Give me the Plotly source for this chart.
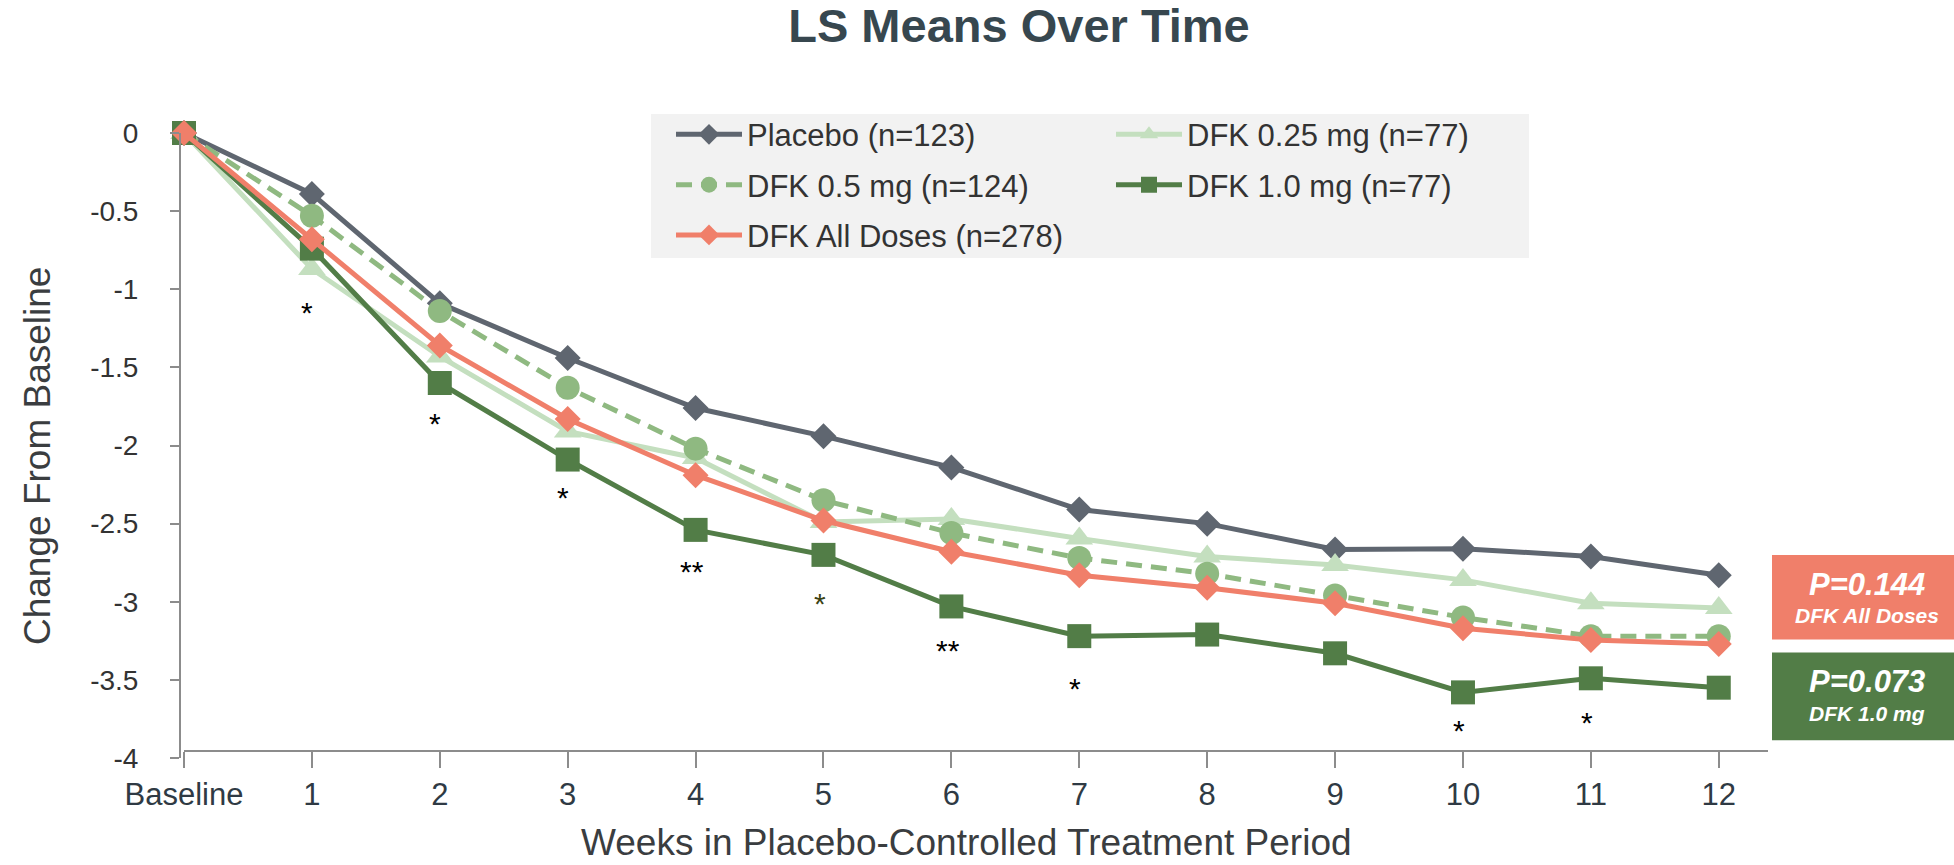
import plotly.graph_objects as go

# ---------------- data ----------------
weeks = [0, 1, 2, 3, 4, 5, 6, 7, 8, 9, 10, 11, 12]
week_labels = ["Baseline", "1", "2", "3", "4", "5", "6", "7", "8", "9", "10", "11", "12"]

placebo = [0, -0.39, -1.09, -1.44, -1.76, -1.94, -2.14, -2.41, -2.50, -2.665, -2.66, -2.71, -2.83]
dfk_025 = [0, -0.87, -1.43, -1.91, -2.08, -2.49, -2.47, -2.595, -2.71, -2.765, -2.86, -3.01, -3.04]
dfk_05 = [0, -0.53, -1.14, -1.63, -2.02, -2.35, -2.56, -2.72, -2.82, -2.96, -3.10, -3.22, -3.22]
dfk_10 = [0, -0.74, -1.60, -2.09, -2.54, -2.70, -3.03, -3.22, -3.21, -3.33, -3.58, -3.49, -3.55]
dfk_all = [0, -0.68, -1.36, -1.83, -2.19, -2.48, -2.68, -2.83, -2.91, -3.01, -3.17, -3.245, -3.27]

y_tickvals = [0, -0.5, -1, -1.5, -2, -2.5, -3, -3.5, -4]
y_ticktext = ["0", "-0.5", "-1", "-1.5", "-2", "-2.5", "-3", "-3.5", "-4"]

star_weeks = [0.96, 1.96, 2.96, 3.97, 4.97, 5.97, 6.97, 9.97, 10.97]
star_y = [-1.135, -1.845, -2.32, -2.795, -3.0, -3.30, -3.545, -3.81, -3.76]
star_text = ["*", "*", "*", "**", "*", "**", "*", "*", "*"]
star_colors = ["#000000", "#000000", "#000000", "#000000", "#3b4214",
               "#000000", "#000000", "#000000", "#000000"]

pbox_main = ["P=0.144", "P=0.073"]
pbox_sub = ["DFK All Doses", "DFK 1.0 mg"]

x_title = "Weeks in Placebo-Controlled Treatment Period"
y_title = "Change From Baseline"

# ---------------- styling ----------------
C_PLACEBO = "#5f6670"
C_025 = "#c4dfbf"
C_05 = "#8fb981"
C_10 = "#527d47"
C_ALL = "#f07f6a"
AXIS_C = "#8c8c8c"
TXT_C = "#2f3a44"

W, H = 1954, 865
ML, MR, MT, MB = 180, 186, 133.3, 107.3
PW = W - ML - MR
PH = H - MT - MB


def px_x(p):
    return (p - ML) / PW


def px_y(p):
    return (H - MB - p) / PH


fig = go.Figure()

series = [
    ("Placebo (n=123)", placebo, C_PLACEBO, "diamond", 20, "solid", "legend"),
    ("DFK 0.25 mg (n=77)", dfk_025, C_025, "triangle-up", 24, "solid", "legend2"),
    ("DFK 0.5 mg (n=124)", dfk_05, C_05, "circle", 24, "16px,9px", "legend"),
    ("DFK 1.0 mg (n=77)", dfk_10, C_10, "square", 24, "solid", "legend2"),
    ("DFK All Doses (n=278)", dfk_all, C_ALL, "diamond", 20, "solid", "legend"),
]

for name, vals, col, sym, size, dash, leg in series:
    fig.add_trace(go.Scatter(
        x=weeks, y=vals, name=name, mode="lines+markers",
        line=dict(color=col, width=5, dash=dash),
        marker=dict(symbol=sym, size=size, color=col, line=dict(width=0)),
        cliponaxis=False, legend=leg, legendgroup=name,
    ))

# asterisks
for wk, yv, t, c in zip(star_weeks, star_y, star_text, star_colors):
    fig.add_annotation(x=wk, y=yv, xref="x", yref="y", text=t, showarrow=False,
                       font=dict(family="Arial, Liberation Sans", size=30, color=c),
                       xanchor="center", yanchor="middle", yshift=-2)

# axis titles
fig.add_annotation(x=px_x(966), y=px_y(864), xref="paper", yref="paper",
                   text=x_title, showarrow=False, xanchor="center", yanchor="bottom",
                   borderpad=0,
                   font=dict(family="Arial, Liberation Sans", size=37, color="#3a3d40"))
fig.add_annotation(x=px_x(37), y=px_y(456), xref="paper", yref="paper",
                   text=y_title, showarrow=False, xanchor="center", yanchor="middle",
                   textangle=-90,
                   font=dict(family="Arial, Liberation Sans", size=37, color="#3a3d40"))

# background box for legend
fig.add_shape(type="rect", xref="paper", yref="paper",
              x0=px_x(651), x1=px_x(1529), y0=px_y(258.3), y1=px_y(114.3),
              fillcolor="#f2f2f2", line=dict(width=0), layer="below")

# p-value boxes
box_cols = [C_ALL, C_10]
box_y = [(555, 639.3), (652.3, 740)]
main_y = [584, 681.7]
sub_y = [615, 713]
for i in range(2):
    fig.add_shape(type="rect", xref="paper", yref="paper",
                  x0=px_x(1772), x1=px_x(1960), y0=px_y(box_y[i][1]), y1=px_y(box_y[i][0]),
                  fillcolor=box_cols[i], line=dict(width=0), layer="above")
    fig.add_annotation(x=px_x(1867), y=px_y(main_y[i]), xref="paper", yref="paper",
                       text="<b><i>" + pbox_main[i] + "</i></b>", showarrow=False,
                       font=dict(family="Arial, Liberation Sans", size=31, color="white"),
                       xanchor="center", yanchor="middle")
    fig.add_annotation(x=px_x(1867), y=px_y(sub_y[i]), xref="paper", yref="paper",
                       text="<b><i>" + pbox_sub[i] + "</i></b>", showarrow=False,
                       font=dict(family="Arial, Liberation Sans", size=21, color="white"),
                       xanchor="center", yanchor="middle")

leg_common = dict(
    bgcolor="rgba(0,0,0,0)", borderwidth=0, orientation="v",
    font=dict(family="Arial, Liberation Sans", size=31, color="#333333"),
    itemwidth=66, tracegroupgap=7, xanchor="left", yanchor="top",
    itemclick=False, itemdoubleclick=False,
)

fig.update_layout(
    width=W, height=H,
    margin=dict(l=ML, r=MR, t=MT, b=MB, autoexpand=False),
    paper_bgcolor="white", plot_bgcolor="white",
    font=dict(family="Arial, Liberation Sans", color=TXT_C),
    title=dict(text="<b>LS Means Over Time</b>", x=1019 / W, y=1 - 26 / H,
               xref="container", yref="container", xanchor="center", yanchor="middle",
               font=dict(family="Arial, Liberation Sans", size=47, color="#37474f")),
    xaxis=dict(
        domain=[4 / PW, 1], range=[0, 12.385], anchor="free", position=7 / PH,
        tickmode="array", tickvals=weeks, ticktext=week_labels,
        ticks="outside", ticklen=16, tickwidth=2, tickcolor=AXIS_C,
        showline=True, linecolor=AXIS_C, linewidth=2, showgrid=False, zeroline=False,
        tickfont=dict(size=31, color=TXT_C),
    ),
    yaxis=dict(
        domain=[0, 1], range=[-4, 0], anchor="free", position=0,
        tickmode="array", tickvals=y_tickvals, ticktext=y_ticktext,
        ticks="outside", ticklen=9, tickwidth=2, tickcolor=AXIS_C,
        showline=True, linecolor=AXIS_C, linewidth=2, showgrid=False, zeroline=False,
        tickfont=dict(size=28, color="#333333"), ticklabelstandoff=26,
    ),
    legend=dict(x=px_x(671), y=px_y(108), **leg_common),
    legend2=dict(x=px_x(1111), y=px_y(108), **leg_common),
    showlegend=True,
)

fig.write_html(
    "out.html",
    config={"displayModeBar": False},
    post_script="document.body.style.margin='0px';document.body.style.overflow='hidden';",
)
